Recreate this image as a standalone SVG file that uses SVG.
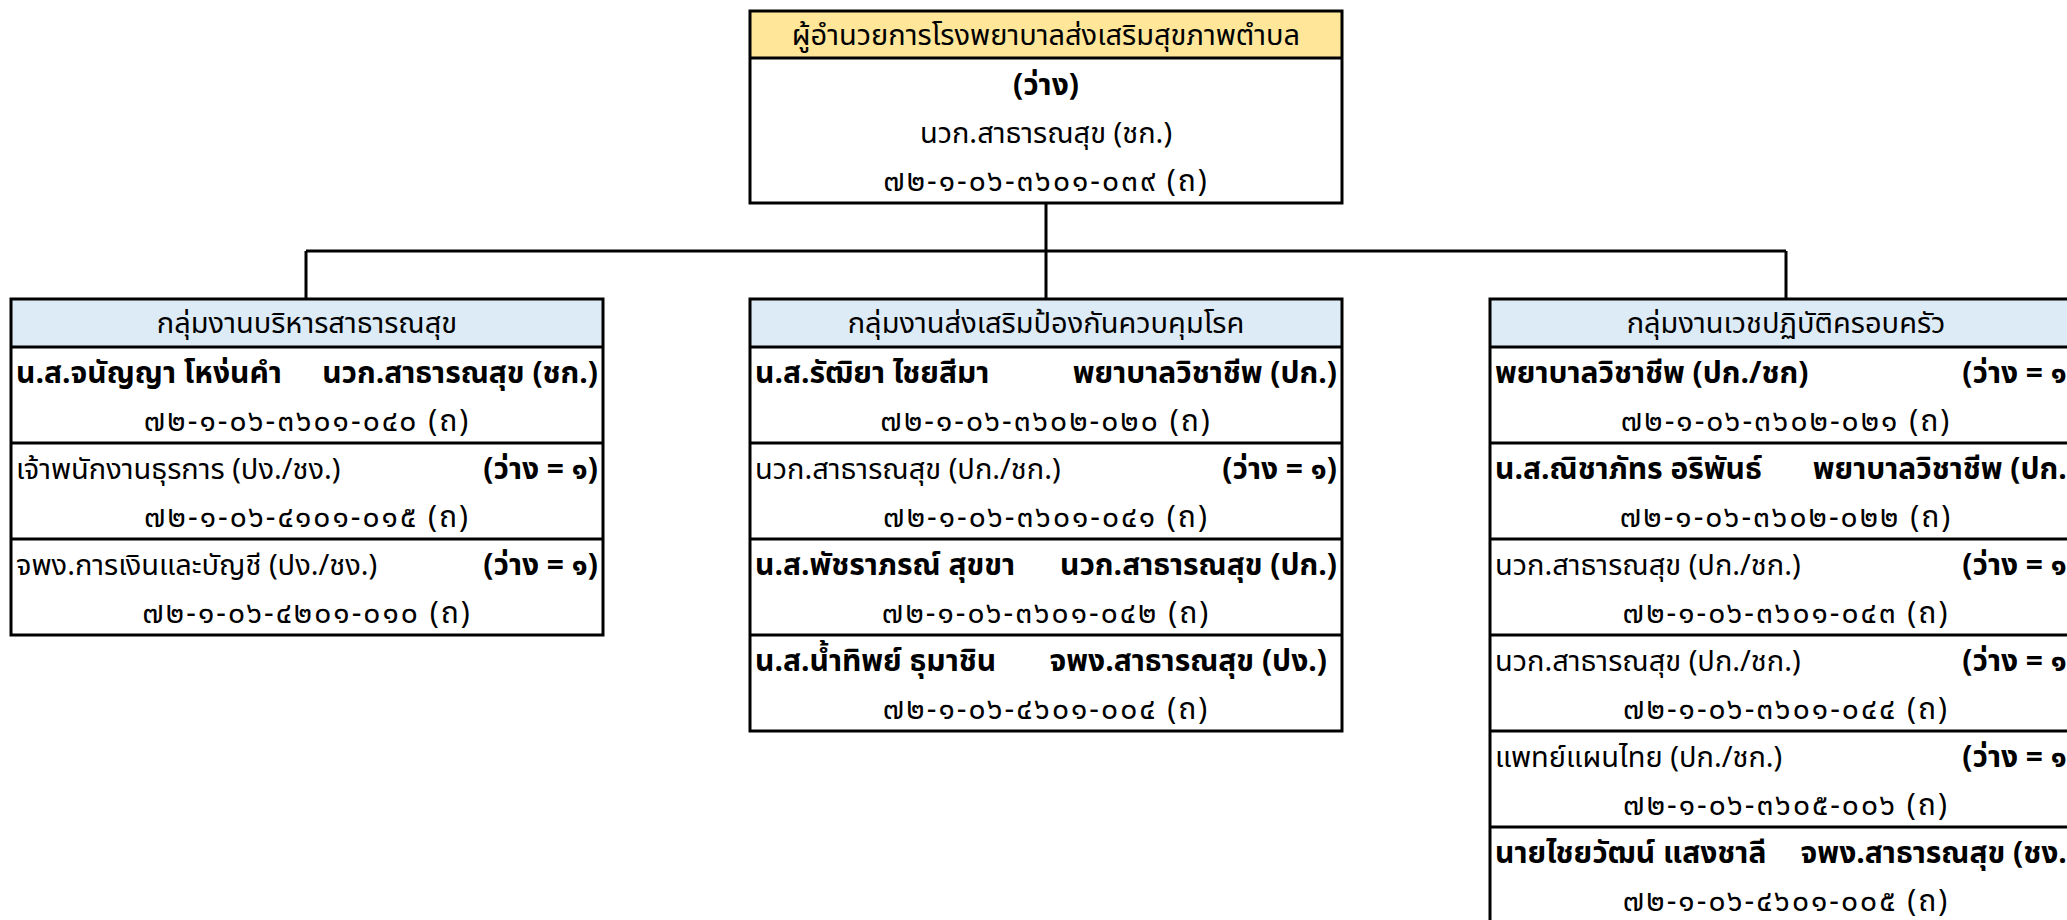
<svg xmlns="http://www.w3.org/2000/svg" width="2067" height="920" viewBox="0 0 2067 920">
<style>
.bg{fill:#ffffff}
.frame{fill:none;stroke:#000;stroke-width:3}
.sep{stroke:#000;stroke-width:3}
.hy{fill:#FFE699}
.hb{fill:#DDEBF7}
.conn{fill:none;stroke:#000;stroke-width:3}
text{font-family:"Noto Sans Thai","Noto Sans Thai UI","Leelawadee UI",Tahoma,"Noto Sans",sans-serif;font-size:29px;fill:#000;dominant-baseline:central}
.b{font-weight:bold;font-size:30px}
.c{text-anchor:middle}
.r{text-anchor:end}
.code{font-size:30px;letter-spacing:2px}
</style>
<rect x="0" y="0" width="2067" height="920" fill="#ffffff"/>

<g id="connectors">
<path class="conn" d="M1046 203 V251 M306 251 H1786 M306 251 V299 M1046 251 V299 M1786 251 V299"/>
</g>

<g id="director">
<rect class="bg" x="750" y="11" width="592" height="192"/>
<rect class="hy" x="750" y="11" width="592" height="47"/>
<line class="sep" x1="750" y1="58" x2="1342" y2="58"/>
<rect class="frame" x="750" y="11" width="592" height="192"/>
<text class="c" x="1046" y="36">ผู้อำนวยการโรงพยาบาลส่งเสริมสุขภาพตำบล</text>
<text class="c b" x="1046" y="86">(ว่าง)</text>
<text class="c" x="1046" y="134">นวก.สาธารณสุข (ชก.)</text>
<text class="c code" x="1046" y="182">๗๒-๑-๐๖-๓๖๐๑-๐๓๙ (ถ)</text>
</g>

<g id="group-admin">
<rect class="bg" x="11" y="299" width="592" height="336"/>
<rect class="hb" x="11" y="299" width="592" height="48"/>
<line class="sep" x1="11" y1="347" x2="603" y2="347"/>
<line class="sep" x1="11" y1="443" x2="603" y2="443"/>
<line class="sep" x1="11" y1="539" x2="603" y2="539"/>
<rect class="frame" x="11" y="299" width="592" height="336"/>
<text class="c" x="307" y="324">กลุ่มงานบริหารสาธารณสุข</text>
<text class="b" x="16" y="374">น.ส.จนัญญา โหง่นคำ</text>
<text class="b r" x="598" y="374">นวก.สาธารณสุข (ชก.)</text>
<text class="c code" x="307" y="422">๗๒-๑-๐๖-๓๖๐๑-๐๔๐ (ถ)</text>
<text x="16" y="470">เจ้าพนักงานธุรการ (ปง./ชง.)</text>
<text class="b r" x="598" y="470">(ว่าง = ๑)</text>
<text class="c code" x="307" y="518">๗๒-๑-๐๖-๔๑๐๑-๐๑๕ (ถ)</text>
<text x="16" y="566">จพง.การเงินและบัญชี (ปง./ชง.)</text>
<text class="b r" x="598" y="566">(ว่าง = ๑)</text>
<text class="c code" x="307" y="614">๗๒-๑-๐๖-๔๒๐๑-๐๑๐ (ถ)</text>
</g>

<g id="group-prevention">
<rect class="bg" x="750" y="299" width="592" height="432"/>
<rect class="hb" x="750" y="299" width="592" height="48"/>
<line class="sep" x1="750" y1="347" x2="1342" y2="347"/>
<line class="sep" x1="750" y1="443" x2="1342" y2="443"/>
<line class="sep" x1="750" y1="539" x2="1342" y2="539"/>
<line class="sep" x1="750" y1="635" x2="1342" y2="635"/>
<rect class="frame" x="750" y="299" width="592" height="432"/>
<text class="c" x="1046" y="324">กลุ่มงานส่งเสริมป้องกันควบคุมโรค</text>
<text class="b" x="755" y="374">น.ส.รัฒิยา ไชยสีมา</text>
<text class="b r" x="1337" y="374">พยาบาลวิชาชีพ (ปก.)</text>
<text class="c code" x="1046" y="422">๗๒-๑-๐๖-๓๖๐๒-๐๒๐ (ถ)</text>
<text x="755" y="470">นวก.สาธารณสุข (ปก./ชก.)</text>
<text class="b r" x="1337" y="470">(ว่าง = ๑)</text>
<text class="c code" x="1046" y="518">๗๒-๑-๐๖-๓๖๐๑-๐๔๑ (ถ)</text>
<text class="b" x="755" y="566">น.ส.พัชราภรณ์ สุขขา</text>
<text class="b r" x="1337" y="566">นวก.สาธารณสุข (ปก.)</text>
<text class="c code" x="1046" y="614">๗๒-๑-๐๖-๓๖๐๑-๐๔๒ (ถ)</text>
<text class="b" x="755" y="662">น.ส.น้ำทิพย์ ธุมาชิน</text>
<text class="b r" x="1327" y="662">จพง.สาธารณสุข (ปง.)</text>
<text class="c code" x="1046" y="710">๗๒-๑-๐๖-๔๖๐๑-๐๐๔ (ถ)</text>
</g>

<g id="group-family">
<rect class="bg" x="1490" y="299" width="592" height="624"/>
<rect class="hb" x="1490" y="299" width="592" height="48"/>
<line class="sep" x1="1490" y1="347" x2="2082" y2="347"/>
<line class="sep" x1="1490" y1="443" x2="2082" y2="443"/>
<line class="sep" x1="1490" y1="539" x2="2082" y2="539"/>
<line class="sep" x1="1490" y1="635" x2="2082" y2="635"/>
<line class="sep" x1="1490" y1="731" x2="2082" y2="731"/>
<line class="sep" x1="1490" y1="827" x2="2082" y2="827"/>
<rect class="frame" x="1490" y="299" width="592" height="624"/>
<text class="c" x="1786" y="324">กลุ่มงานเวชปฏิบัติครอบครัว</text>
<text class="b" x="1495" y="374">พยาบาลวิชาชีพ (ปก./ชก)</text>
<text class="b r" x="2077" y="374">(ว่าง = ๑)</text>
<text class="c code" x="1786" y="422">๗๒-๑-๐๖-๓๖๐๒-๐๒๑ (ถ)</text>
<text class="b" x="1495" y="470">น.ส.ณิชาภัทร อริพันธ์</text>
<text class="b r" x="2077" y="470">พยาบาลวิชาชีพ (ปก.)</text>
<text class="c code" x="1786" y="518">๗๒-๑-๐๖-๓๖๐๒-๐๒๒ (ถ)</text>
<text x="1495" y="566">นวก.สาธารณสุข (ปก./ชก.)</text>
<text class="b r" x="2077" y="566">(ว่าง = ๑)</text>
<text class="c code" x="1786" y="614">๗๒-๑-๐๖-๓๖๐๑-๐๔๓ (ถ)</text>
<text x="1495" y="662">นวก.สาธารณสุข (ปก./ชก.)</text>
<text class="b r" x="2077" y="662">(ว่าง = ๑)</text>
<text class="c code" x="1786" y="710">๗๒-๑-๐๖-๓๖๐๑-๐๔๔ (ถ)</text>
<text x="1495" y="758">แพทย์แผนไทย (ปก./ชก.)</text>
<text class="b r" x="2077" y="758">(ว่าง = ๑)</text>
<text class="c code" x="1786" y="806">๗๒-๑-๐๖-๓๖๐๕-๐๐๖ (ถ)</text>
<text class="b" x="1495" y="854">นายไชยวัฒน์ แสงชาลี</text>
<text class="b r" x="2077" y="854">จพง.สาธารณสุข (ชง.)</text>
<text class="c code" x="1786" y="902">๗๒-๑-๐๖-๔๖๐๑-๐๐๕ (ถ)</text>
</g>
</svg>
